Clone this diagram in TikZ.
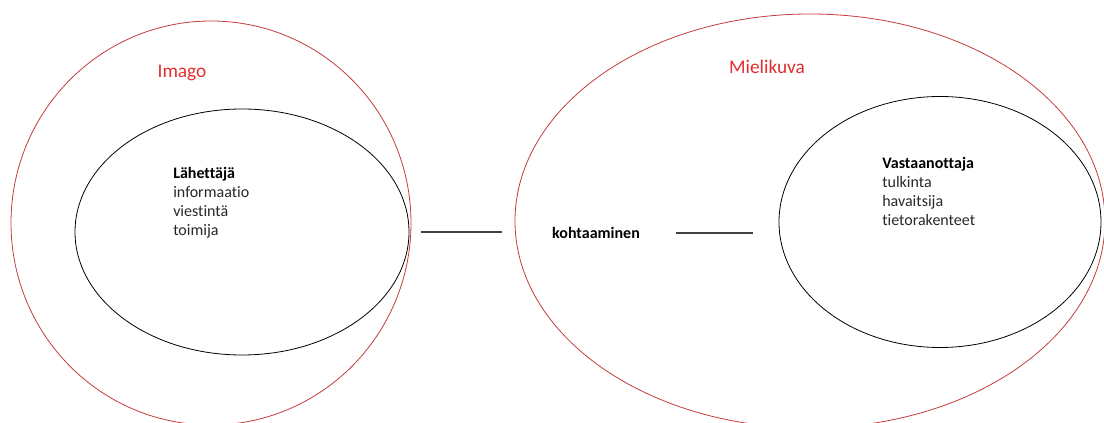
\documentclass[tikz,border=0pt]{standalone}
\usepackage{fontspec}
\setmainfont[RawFeature=-liga]{Carlito}
\usetikzlibrary{shapes.geometric}

\definecolor{ringred}{RGB}{195,60,60}
\definecolor{labelred}{RGB}{225,45,45}
\definecolor{textgray}{RGB}{40,40,40}

\tikzset{
    ring/.style={draw=ringred, line width=0.6pt, ellipse, inner sep=0pt},
    party/.style={draw=black, line width=0.6pt, ellipse, inner sep=0pt},
    ringlabel/.style={text=labelred, font=\fontsize{14.5}{17}\selectfont, inner sep=0pt},
    itemlist/.style={text=textgray, align=left, anchor=north west, inner sep=0pt,
        font=\fontsize{12}{14.25}\selectfont},
    link/.style={draw=black!75, line width=0.8pt}
}

\begin{document}
\begin{tikzpicture}[x=0.75pt, y=-0.75pt]

    %----- PAGE -----
    \useasboundingbox (0,0) rectangle (1104,423);
    \clip (0,0) rectangle (1104,423);

    %----- OUTER RINGS (red) -----
    \node[ring, minimum width=300pt, minimum height=303pt] (imago) at (211,223) {};
    \node[ring, minimum width=442.5pt, minimum height=310.5pt] (mielikuva) at (810,221) {};

    %----- INNER ELLIPSES (black) -----
    \node[party, minimum width=250.5pt, minimum height=184.5pt] (lahettaja) at (242,232) {};
    \node[party, minimum width=241.5pt, minimum height=188.25pt] (vastaanottaja) at (940,222) {};

    %----- RING LABELS -----
    \node[ringlabel] (imagolabel) at (182,73) {Imago};
    \node[ringlabel] (mielikuvalabel) at (767,67) {Mielikuva};

    %----- TEXT IN THE ELLIPSES -----
    \node[itemlist] (lahettajatext) at (173,167)
        {\textbf{\textcolor{black}{Lähettäjä}}\\informaatio\\viestintä\\toimija};
    \node[itemlist] (vastaanottajatext) at (882,157)
        {\textbf{\textcolor{black}{Vastaanottaja}}\\tulkinta\\havaitsija\\tietorakenteet};

    %----- MEETING -----
    \node[inner sep=0pt, font=\fontsize{12}{14}\selectfont\bfseries] (kohtaaminen) at (596,233) {kohtaaminen};

    % lines on both sides of the meeting
    \draw[link, shorten <=9pt, shorten >=9.75pt]
        (lahettaja.east) -- (lahettaja.east -| mielikuva.west);
    \draw[link, shorten <=27pt, shorten >=19.5pt]
        (kohtaaminen.east) -- (kohtaaminen.east -| vastaanottaja.west);

\end{tikzpicture}
\end{document}
